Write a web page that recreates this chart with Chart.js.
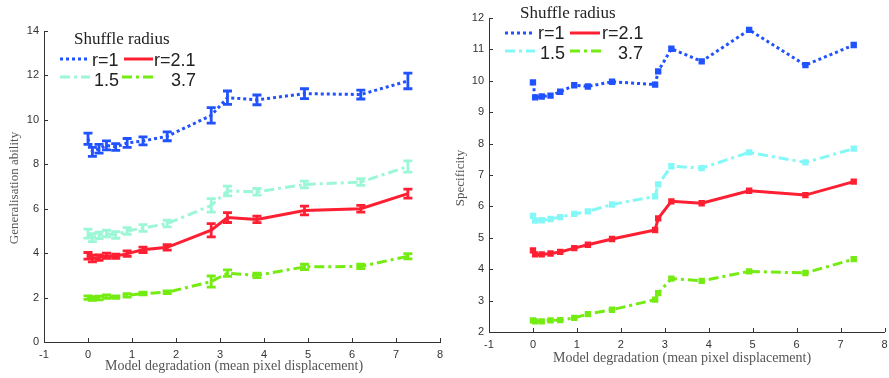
<!DOCTYPE html>
<html>
<head>
<meta charset="utf-8">
<script src="https://cdn.jsdelivr.net/npm/chart.js@4.4.1/dist/chart.umd.min.js"></script>
<style>
  html, body { margin: 0; padding: 0; background: #fff; }
  #wrap { position: relative; width: 889px; height: 378px; }
  .box { position: absolute; top: 0; height: 378px; }
</style>
</head>
<body>
<div id="wrap">
  <div class="box" style="left:0;width:445px"><canvas id="c1"></canvas></div>
  <div class="box" style="left:445px;width:444px"><canvas id="c2"></canvas></div>
</div>
<script>
// ---------- data ----------
const legendTitle = "Shuffle radius";
const seriesLabels = ["r=1", "r=2.1", "1.5", "3.7"];
const xTicks = [-1, 0, 1, 2, 3, 4, 5, 6, 7, 8];
const leftYTicks = [0, 2, 4, 6, 8, 10, 12, 14];
const rightYTicks = [2, 3, 4, 5, 6, 7, 8, 9, 10, 11, 12];

// Left panel: generalisation ability (with error bars)
const xLeft     = [0, 0.1, 0.25, 0.42, 0.63, 0.89, 1.25, 1.8, 2.8, 3.17, 3.84, 4.92, 6.2, 7.27];
const genR1     = [9.15, 8.56, 8.7, 8.85, 8.78, 8.96, 9.05, 9.26, 10.2, 11.0, 10.9, 11.18, 11.14, 11.75];
const genR1Err  = [0.25, 0.2, 0.2, 0.2, 0.15, 0.2, 0.18, 0.2, 0.35, 0.3, 0.22, 0.22, 0.2, 0.35];
const genR15    = [4.88, 4.7, 4.8, 4.88, 4.82, 5.0, 5.13, 5.33, 6.15, 6.8, 6.76, 7.09, 7.2, 7.9];
const genR15Err = [0.2, 0.18, 0.15, 0.15, 0.15, 0.15, 0.15, 0.15, 0.3, 0.22, 0.15, 0.15, 0.15, 0.25];
const genR21    = [3.88, 3.76, 3.8, 3.88, 3.86, 3.98, 4.15, 4.26, 5.03, 5.6, 5.52, 5.92, 6.0, 6.68];
const genR21Err = [0.15, 0.15, 0.12, 0.12, 0.1, 0.12, 0.12, 0.12, 0.3, 0.22, 0.15, 0.2, 0.15, 0.2];
const genR37    = [2.0, 1.96, 1.98, 2.04, 2.02, 2.1, 2.18, 2.24, 2.72, 3.1, 3.0, 3.38, 3.4, 3.86];
const genR37Err = [0.08, 0.08, 0.08, 0.08, 0.06, 0.08, 0.06, 0.06, 0.25, 0.15, 0.1, 0.12, 0.1, 0.12];

// Right panel: specificity
const xRight  = [0, 0.05, 0.2, 0.4, 0.62, 0.94, 1.25, 1.8, 2.78, 2.85, 3.15, 3.84, 4.92, 6.2, 7.3];
const specR1  = [9.95, 9.47, 9.5, 9.53, 9.65, 9.86, 9.82, 9.97, 9.88, 10.3, 11.02, 10.62, 11.62, 10.5, 11.14];
const specR15 = [5.7, 5.55, 5.56, 5.6, 5.66, 5.76, 5.84, 6.06, 6.32, 6.7, 7.28, 7.22, 7.72, 7.4, 7.84];
const specR21 = [4.6, 4.47, 4.47, 4.5, 4.55, 4.67, 4.78, 4.96, 5.25, 5.62, 6.16, 6.1, 6.5, 6.36, 6.79];
const specR37 = [2.37, 2.34, 2.34, 2.37, 2.38, 2.45, 2.57, 2.71, 3.03, 3.24, 3.7, 3.63, 3.93, 3.88, 4.32];

// ---------- styles ----------
const BLUE = '#2152ff', RED = '#ff1f33', MINT = '#9cf7d6', CYAN = '#84f8f6', GREEN = '#74ec12';
const DOT = [3, 3], SOLID = [], DASHDOT = [10, 4, 3, 4];

function pts(xs, ys) { return xs.map((x, i) => ({ x: x, y: ys[i] })); }

const decorPlugin = {
  id: 'decor',
  afterDatasetsDraw(chart) {
    const c = chart.options.plugins.decor;
    const ctx = chart.ctx;
    const xs = chart.scales.x, ys = chart.scales.y, a = chart.chartArea;
    ctx.save();
    // error bars
    chart.data.datasets.forEach((ds) => {
      if (!ds.errors) return;
      ctx.strokeStyle = ds.borderColor;
      ctx.lineWidth = 2.8;
      ctx.setLineDash([]);
      ds.data.forEach((p, i) => {
        const e = ds.errors[i];
        const px = xs.getPixelForValue(p.x);
        const y1 = ys.getPixelForValue(p.y + e), y2 = ys.getPixelForValue(p.y - e);
        ctx.beginPath();
        ctx.moveTo(px, y1); ctx.lineTo(px, y2);
        ctx.moveTo(px - 4.5, y1); ctx.lineTo(px + 4.5, y1);
        ctx.moveTo(px - 4.5, y2); ctx.lineTo(px + 4.5, y2);
        ctx.stroke();
      });
    });
    // inward ticks
    ctx.strokeStyle = '#333'; ctx.lineWidth = 1;
    ys.ticks.forEach(t => {
      const y = Math.round(ys.getPixelForValue(t.value)) + 0.5;
      ctx.beginPath(); ctx.moveTo(a.left, y); ctx.lineTo(a.left + 4, y); ctx.stroke();
    });
    xs.ticks.forEach(t => {
      const x = Math.round(xs.getPixelForValue(t.value)) + 0.5;
      ctx.beginPath(); ctx.moveTo(x, a.bottom); ctx.lineTo(x, a.bottom - 4); ctx.stroke();
    });
    // axis titles
    ctx.fillStyle = '#555';
    ctx.font = '14px "Liberation Serif", "Times New Roman", serif';
    ctx.textAlign = 'center'; ctx.textBaseline = 'middle';
    ctx.fillText(c.xTitle, c.xTitleX, c.xTitleY);
    ctx.save();
    ctx.translate(c.yTitleX, c.yTitleY);
    ctx.rotate(-Math.PI / 2);
    ctx.font = '13px "Liberation Serif", "Times New Roman", serif';
    ctx.fillText(c.yTitle, 0, 0);
    ctx.restore();
    // legend
    const L = c.legend;
    ctx.fillStyle = '#222';
    ctx.font = '17px "Liberation Serif", "Times New Roman", serif';
    ctx.textAlign = 'left';
    ctx.fillText(legendTitle, L.titleX, L.titleY);
    ctx.font = '18px "Liberation Sans", Arial, sans-serif';
    L.items.forEach((it) => {
      const ds = chart.data.datasets[it.ds];
      ctx.strokeStyle = ds.borderColor;
      ctx.lineWidth = 3;
      ctx.setLineDash(ds.borderDash || []);
      ctx.beginPath(); ctx.moveTo(it.x1, it.y); ctx.lineTo(it.x2, it.y); ctx.stroke();
      ctx.setLineDash([]);
      ctx.fillStyle = '#222';
      ctx.fillText(ds.label, it.tx, it.ty);
    });
    ctx.restore();
  }
};

function makeChart(id, datasets, yTicks, yMin, yMax, pad, decor) {
  return new Chart(document.getElementById(id), {
    type: 'line',
    data: { datasets: datasets },
    options: {
      responsive: true,
      maintainAspectRatio: false,
      animation: false,
      layout: { padding: pad },
      plugins: { legend: { display: false }, tooltip: { enabled: false }, decor: decor },
      scales: {
        x: {
          type: 'linear', min: -1, max: 8,
          afterBuildTicks: s => { s.ticks = xTicks.map(v => ({ value: v })); },
          afterFit: s => { s.height = 36; s.paddingLeft = 0; s.paddingRight = 0; },
          grid: { drawOnChartArea: false, drawTicks: false },
          border: { display: true, color: '#333', width: 1 },
          ticks: { padding: 6, color: '#333', font: { size: 11, family: '"Liberation Sans", Arial, sans-serif' }, maxRotation: 0, autoSkip: false }
        },
        y: {
          type: 'linear', min: yMin, max: yMax,
          afterBuildTicks: s => { s.ticks = yTicks.map(v => ({ value: v })); },
          afterFit: s => { s.width = 44; s.paddingTop = 0; s.paddingBottom = 0; },
          grid: { drawOnChartArea: false, drawTicks: false },
          border: { display: true, color: '#333', width: 1 },
          ticks: { padding: 5, color: '#333', font: { size: 11, family: '"Liberation Sans", Arial, sans-serif' }, autoSkip: false }
        }
      }
    },
    plugins: [decorPlugin]
  });
}

function ds(label, xs, ys, color, dash, errs, square) {
  return {
    label: label, data: pts(xs, ys), borderColor: color, backgroundColor: color,
    borderWidth: 3, borderDash: dash, errors: errs,
    pointRadius: square ? 4.5 : 0, pointStyle: 'rect', pointBorderWidth: 0, tension: 0
  };
}

makeChart('c1', [
  ds(seriesLabels[0], xLeft, genR1, BLUE, DOT, genR1Err),
  ds(seriesLabels[1], xLeft, genR21, RED, SOLID, genR21Err),
  ds(seriesLabels[2], xLeft, genR15, MINT, DASHDOT, genR15Err),
  ds(seriesLabels[3], xLeft, genR37, GREEN, DASHDOT, genR37Err)
], leftYTicks, 0, 14, { top: 31, right: 5, left: 0, bottom: 0 }, {
  xTitle: 'Model degradation (mean pixel displacement)', xTitleX: 234, xTitleY: 366,
  yTitle: 'Generalisation ability', yTitleX: 15, yTitleY: 188,
  legend: {
    titleX: 74, titleY: 40,
    items: [
      { ds: 0, x1: 60, x2: 88, y: 59, tx: 92, ty: 61 },
      { ds: 1, x1: 124, x2: 153, y: 59, tx: 154, ty: 61 },
      { ds: 2, x1: 60, x2: 90, y: 77, tx: 94, ty: 81 },
      { ds: 3, x1: 122, x2: 157, y: 77, tx: 171, ty: 81 }
    ]
  }
});

makeChart('c2', [
  ds(seriesLabels[0], xRight, specR1, BLUE, DOT, null, true),
  ds(seriesLabels[1], xRight, specR21, RED, SOLID, null, true),
  ds(seriesLabels[2], xRight, specR15, CYAN, DASHDOT, null, true),
  ds(seriesLabels[3], xRight, specR37, GREEN, DASHDOT, null, true)
], rightYTicks, 2, 12, { top: 18, right: 1, left: 0, bottom: 10 }, {
  xTitle: 'Model degradation (mean pixel displacement)', xTitleX: 237, xTitleY: 358,
  yTitle: 'Specificity', yTitleX: 16, yTitleY: 178,
  legend: {
    titleX: 75, titleY: 14,
    items: [
      { ds: 0, x1: 60, x2: 90, y: 33, tx: 93, ty: 34 },
      { ds: 1, x1: 125, x2: 155, y: 33, tx: 157, ty: 34 },
      { ds: 2, x1: 60, x2: 90, y: 51, tx: 95, ty: 54 },
      { ds: 3, x1: 125, x2: 160, y: 51, tx: 173, ty: 54 }
    ]
  }
});
</script>
</body>
</html>
